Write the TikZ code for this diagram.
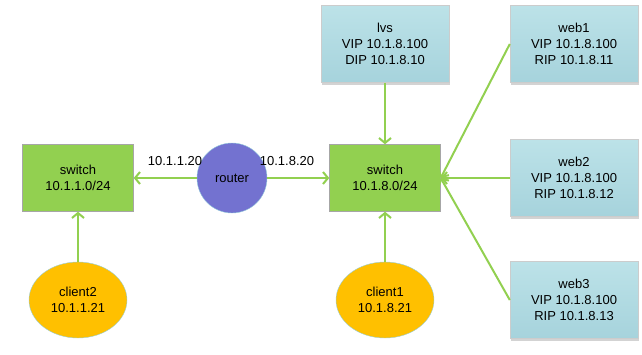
\documentclass[tikz,border=0pt]{standalone}
\usepackage{fontspec}
\setmainfont{Liberation Sans}
\usepackage{tikz}
\usetikzlibrary{shapes.geometric,arrows.meta,shadows}
\definecolor{swgreen}{RGB}{146,208,80}
\definecolor{hostblue}{RGB}{188,226,232}
\definecolor{hostblue2}{RGB}{166,211,220}
\definecolor{routerblue}{RGB}{115,114,208}
\definecolor{clientorange}{RGB}{255,192,0}
\definecolor{rimblue}{RGB}{150,206,220}

\begin{document}
\begin{tikzpicture}[x=1pt,y=-1pt,
  font=\fontsize{13}{16}\selectfont,
  swbox/.style={rectangle, draw=gray!70, fill=swgreen, minimum width=111pt, minimum height=67pt, align=center},
  hostbox/.style={rectangle, draw=gray!40, top color=hostblue, bottom color=hostblue2, minimum width=128pt, minimum height=77pt, align=center,
    drop shadow={shadow xshift=1pt, shadow yshift=-2pt, opacity=0.35}},
  client/.style={ellipse, draw=rimblue, fill=clientorange, minimum width=98pt, minimum height=76pt, inner sep=0pt, align=center},
  link/.style={swgreen, line width=2pt, -{Straight Barb[length=5pt,width=12pt]}}]
  \useasboundingbox (0,0) rectangle (642,354);
  % switches and router
  \node[swbox] (sw1) at (78,178) {switch\\10.1.1.0/24};
  \node[swbox] (sw2) at (385,178) {switch\\10.1.8.0/24};
  \node[circle, draw=rimblue, fill=routerblue, minimum size=70pt, inner sep=0pt] (router) at (232,178) {router};
  \node (ip1) at (175,161) {10.1.1.20};
  \node (ip8) at (287,161) {10.1.8.20};
  % servers
  \node[hostbox] (lvs) at (385,44) {lvs\\VIP 10.1.8.100\\DIP 10.1.8.10};
  \node[hostbox] (web1) at (574,44) {web1\\VIP 10.1.8.100\\RIP 10.1.8.11};
  \node[hostbox] (web2) at (574,178) {web2\\VIP 10.1.8.100\\RIP 10.1.8.12};
  \node[hostbox] (web3) at (574,300) {web3\\VIP 10.1.8.100\\RIP 10.1.8.13};
  % clients
  \node[client] (client2) at (78,300) {client2\\10.1.1.21};
  \node[client] (client1) at (385,300) {client1\\10.1.8.21};
  % links
  \draw[link] (router) -- (sw1);
  \draw[link] (router) -- (sw2);
  \draw[link] (lvs) -- (sw2);
  \foreach \w in {web1,web2,web3}
    \draw[link] (\w.west) -- (sw2.east);
  \draw[link] (client1) -- (sw2);
  \draw[link] (client2) -- (sw1);
\end{tikzpicture}
\end{document}
